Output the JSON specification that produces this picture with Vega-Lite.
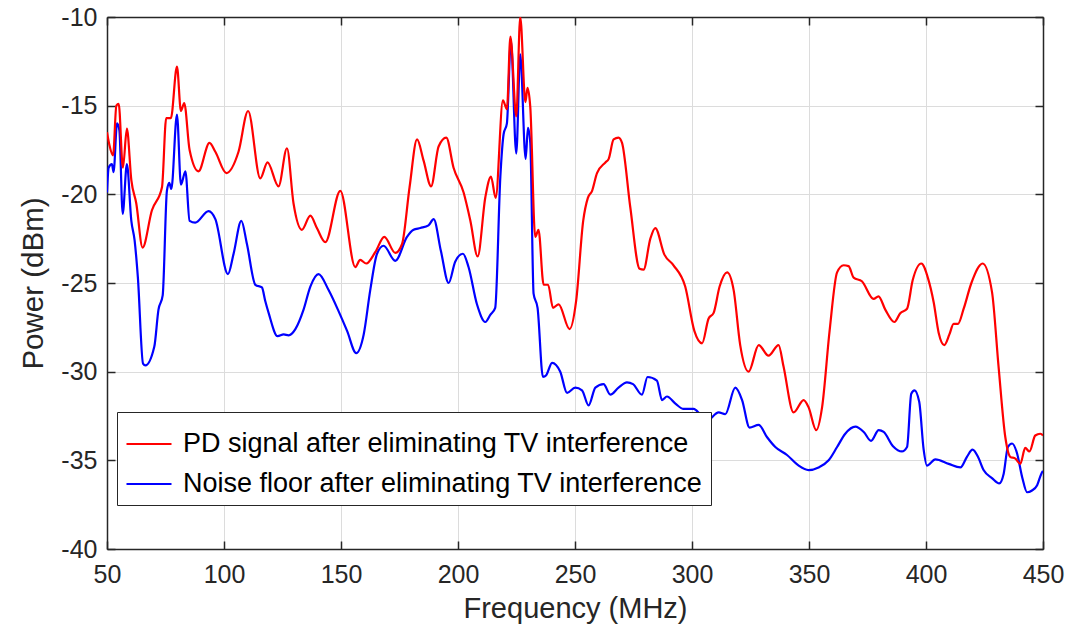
{
  "$schema": "https://vega.github.io/schema/vega-lite/v6.json",
  "width": 936,
  "height": 532,
  "autosize": "none",
  "padding": {"left": 107, "top": 17, "right": 26, "bottom": 88},
  "background": "white",
  "config": {
    "view": {"stroke": null},
    "font": "Liberation Sans",
    "axis": {"labelFont": "Liberation Sans", "titleFont": "Liberation Sans", "labelColor": "#262626", "titleColor": "#262626", "titleFontWeight": "normal", "domainColor": "#262626", "tickColor": "#262626", "domainWidth": 1.5, "tickWidth": 1.5, "gridColor": "#dcdcdc", "gridWidth": 1}
  },
  "datasets": {
    "pd": [
      {"f":50,"p":-16.5},{"f":51,"p":-17.2},{"f":52.6,"p":-17.8},{"f":54,"p":-15.0},{"f":55,"p":-14.9},{"f":56.8,"p":-18.5},{"f":58.5,"p":-16.3},{"f":60.4,"p":-19.2},{"f":62.5,"p":-20.5},{"f":65.2,"p":-23.0},{"f":69.2,"p":-20.9},{"f":73.5,"p":-19.6},{"f":75.3,"p":-15.7},{"f":77.3,"p":-15.7},{"f":79.9,"p":-12.8},{"f":81.6,"p":-15.3},{"f":83,"p":-14.85},{"f":85.3,"p":-17.5},{"f":89.1,"p":-18.7},{"f":93.8,"p":-17.1},{"f":96.3,"p":-17.6},{"f":101,"p":-18.8},{"f":106.2,"p":-17.6},{"f":110.3,"p":-15.3},{"f":115.5,"p":-19.1},{"f":118.6,"p":-18.2},{"f":123.3,"p":-19.55},{"f":126.9,"p":-17.4},{"f":129.7,"p":-20.5},{"f":133.3,"p":-22.0},{"f":136.9,"p":-21.2},{"f":139.7,"p":-21.9},{"f":143.3,"p":-22.7},{"f":149.7,"p":-19.8},{"f":156.1,"p":-24.1},{"f":158.2,"p":-23.7},{"f":160.8,"p":-23.9},{"f":164.7,"p":-23.25},{"f":168.5,"p":-22.4},{"f":173.2,"p":-23.3},{"f":176.1,"p":-22.8},{"f":179.3,"p":-19.6},{"f":182.5,"p":-16.9},{"f":185.3,"p":-18.1},{"f":188.5,"p":-19.55},{"f":191.7,"p":-17.3},{"f":195,"p":-16.8},{"f":198.1,"p":-18.5},{"f":202.4,"p":-19.9},{"f":205.3,"p":-21.5},{"f":208.4,"p":-23.5},{"f":211.7,"p":-20.15},{"f":214.1,"p":-19.0},{"f":216.1,"p":-20.2},{"f":219.2,"p":-14.7},{"f":220.9,"p":-15.2},{"f":222.4,"p":-11.1},{"f":224.9,"p":-15.6},{"f":226.6,"p":-10.0},{"f":228.8,"p":-14.8},{"f":229.7,"p":-14.0},{"f":230.9,"p":-15.1},{"f":233,"p":-22.4},{"f":234.4,"p":-22.0},{"f":236.6,"p":-25.1},{"f":238.5,"p":-25.1},{"f":240.6,"p":-26.4},{"f":243,"p":-26.2},{"f":247.7,"p":-27.6},{"f":250.5,"p":-26.0},{"f":253.5,"p":-21.5},{"f":255.5,"p":-20.2},{"f":257.3,"p":-19.8},{"f":259.4,"p":-18.8},{"f":263,"p":-18.2},{"f":264.4,"p":-18.0},{"f":266.5,"p":-16.9},{"f":268.6,"p":-16.8},{"f":270.1,"p":-17.1},{"f":273.6,"p":-20.7},{"f":277.6,"p":-24.2},{"f":279.3,"p":-24.25},{"f":282.2,"p":-22.5},{"f":284.3,"p":-21.9},{"f":288.2,"p":-23.4},{"f":292.1,"p":-24.0},{"f":297.1,"p":-25.2},{"f":301,"p":-27.7},{"f":304.3,"p":-28.4},{"f":307.1,"p":-27.0},{"f":309.2,"p":-26.7},{"f":311.8,"p":-25.2},{"f":315,"p":-24.4},{"f":317.8,"p":-25.4},{"f":320.6,"p":-28.5},{"f":324.2,"p":-30.0},{"f":328.5,"p":-28.5},{"f":332.7,"p":-29.1},{"f":337,"p":-28.5},{"f":339.1,"p":-29.7},{"f":343.4,"p":-32.3},{"f":347.7,"p":-31.6},{"f":349.8,"p":-32.0},{"f":353.1,"p":-33.3},{"f":355.6,"p":-32.0},{"f":358.8,"p":-27.7},{"f":362,"p":-24.4},{"f":364.8,"p":-24.0},{"f":366.9,"p":-24.05},{"f":369.1,"p":-24.7},{"f":372.6,"p":-24.9},{"f":377.6,"p":-25.9},{"f":379.7,"p":-25.75},{"f":382.6,"p":-26.5},{"f":386.5,"p":-27.2},{"f":389,"p":-26.7},{"f":391.9,"p":-26.45},{"f":394.3,"p":-24.85},{"f":398,"p":-23.9},{"f":400.9,"p":-24.75},{"f":403.3,"p":-26.1},{"f":405.4,"p":-27.8},{"f":407.8,"p":-28.5},{"f":410,"p":-27.9},{"f":411.8,"p":-27.3},{"f":413.7,"p":-27.3},{"f":416.1,"p":-26.45},{"f":419.4,"p":-25.0},{"f":424.2,"p":-23.9},{"f":428.2,"p":-25.5},{"f":431,"p":-29.7},{"f":433.9,"p":-33.7},{"f":436,"p":-34.8},{"f":438.2,"p":-34.9},{"f":440.3,"p":-35.2},{"f":442.4,"p":-34.3},{"f":444.2,"p":-34.5},{"f":446.7,"p":-33.6},{"f":448.8,"p":-33.5},{"f":450,"p":-33.6}
    ],
    "noise": [
      {"f":50,"p":-19.9},{"f":50.7,"p":-18.5},{"f":52.1,"p":-18.3},{"f":52.8,"p":-18.75},{"f":54.3,"p":-16.0},{"f":55.3,"p":-16.4},{"f":56.7,"p":-21.1},{"f":58.5,"p":-18.3},{"f":60.4,"p":-21.5},{"f":61.8,"p":-22.6},{"f":63.2,"p":-24.7},{"f":65.4,"p":-29.55},{"f":66.4,"p":-29.65},{"f":70.2,"p":-28.6},{"f":72,"p":-26.5},{"f":73.8,"p":-25.7},{"f":75.6,"p":-19.8},{"f":76.6,"p":-19.35},{"f":77.5,"p":-19.7},{"f":79.9,"p":-15.5},{"f":81.6,"p":-19.45},{"f":83.5,"p":-18.7},{"f":85.3,"p":-21.5},{"f":87.7,"p":-21.6},{"f":93.4,"p":-20.95},{"f":96.3,"p":-21.4},{"f":101.7,"p":-24.5},{"f":104.1,"p":-23.35},{"f":107.4,"p":-21.5},{"f":109.8,"p":-22.8},{"f":113.4,"p":-25.1},{"f":116.2,"p":-25.25},{"f":117.6,"p":-26.0},{"f":119.1,"p":-26.7},{"f":122.9,"p":-28.0},{"f":125.5,"p":-27.9},{"f":127.6,"p":-27.95},{"f":130.5,"p":-27.6},{"f":134,"p":-26.5},{"f":136.9,"p":-25.2},{"f":140.4,"p":-24.5},{"f":144.7,"p":-25.4},{"f":149,"p":-26.6},{"f":152.6,"p":-27.7},{"f":156.5,"p":-28.95},{"f":159.7,"p":-27.9},{"f":162.5,"p":-25.4},{"f":165.4,"p":-23.35},{"f":168.2,"p":-22.9},{"f":173.2,"p":-23.75},{"f":178.2,"p":-22.4},{"f":181,"p":-22.0},{"f":183.9,"p":-21.9},{"f":187.4,"p":-21.75},{"f":189.6,"p":-21.4},{"f":192.7,"p":-23.2},{"f":196,"p":-25.0},{"f":198.8,"p":-23.8},{"f":202.1,"p":-23.35},{"f":204.5,"p":-24.1},{"f":208.1,"p":-26.2},{"f":211.7,"p":-27.2},{"f":213.8,"p":-26.8},{"f":215.9,"p":-26.4},{"f":218.1,"p":-19.0},{"f":219.5,"p":-16.6},{"f":220.9,"p":-16.0},{"f":222.6,"p":-11.35},{"f":224.9,"p":-17.7},{"f":226.6,"p":-12.1},{"f":228.9,"p":-18.0},{"f":229.9,"p":-16.25},{"f":230.9,"p":-17.1},{"f":232.3,"p":-25.6},{"f":234,"p":-26.4},{"f":236.3,"p":-30.3},{"f":237.7,"p":-30.2},{"f":240.2,"p":-29.5},{"f":243.7,"p":-30.0},{"f":246.6,"p":-31.2},{"f":250.1,"p":-30.9},{"f":253,"p":-31.05},{"f":255.8,"p":-31.9},{"f":258.7,"p":-30.9},{"f":262.2,"p":-30.7},{"f":265.1,"p":-31.3},{"f":268.6,"p":-30.9},{"f":272.2,"p":-30.6},{"f":274.8,"p":-30.7},{"f":278.6,"p":-31.3},{"f":281,"p":-30.3},{"f":285,"p":-30.5},{"f":287.2,"p":-31.6},{"f":289.3,"p":-31.4},{"f":292.9,"p":-31.8},{"f":296.4,"p":-32.1},{"f":300.7,"p":-32.1},{"f":303.5,"p":-32.4},{"f":306.4,"p":-32.75},{"f":311.4,"p":-32.3},{"f":314.2,"p":-32.4},{"f":318.5,"p":-30.9},{"f":321.4,"p":-31.6},{"f":324.6,"p":-33.15},{"f":328.5,"p":-33.0},{"f":332.1,"p":-33.7},{"f":335.6,"p":-34.25},{"f":340.6,"p":-34.7},{"f":345.6,"p":-35.3},{"f":349.8,"p":-35.55},{"f":354.1,"p":-35.4},{"f":358.4,"p":-35.0},{"f":362,"p":-34.25},{"f":365.5,"p":-33.5},{"f":369.8,"p":-33.1},{"f":373.4,"p":-33.4},{"f":376.5,"p":-33.9},{"f":379.8,"p":-33.3},{"f":381.9,"p":-33.4},{"f":385.9,"p":-34.2},{"f":389.7,"p":-34.5},{"f":391.9,"p":-34.25},{"f":393.7,"p":-31.25},{"f":395.1,"p":-31.05},{"f":397.1,"p":-31.7},{"f":399,"p":-34.4},{"f":400.4,"p":-35.3},{"f":404,"p":-34.95},{"f":409.7,"p":-35.2},{"f":414.7,"p":-35.4},{"f":417.5,"p":-34.8},{"f":419.9,"p":-34.4},{"f":422.2,"p":-34.8},{"f":424.6,"p":-35.55},{"f":428.2,"p":-36.0},{"f":431.3,"p":-36.3},{"f":433.2,"p":-35.75},{"f":435,"p":-34.25},{"f":436.8,"p":-34.05},{"f":438.9,"p":-34.6},{"f":441.1,"p":-35.95},{"f":443.2,"p":-36.8},{"f":445.3,"p":-36.7},{"f":447.5,"p":-36.4},{"f":449.3,"p":-35.75},{"f":450,"p":-35.6}
    ]
  },
  "layer": [
    {
      "data": {"name": "noise"},
      "transform": [{"calculate": "'Noise floor after eliminating TV interference'", "as": "series"}],
      "mark": {"type": "line", "interpolate": "monotone", "strokeWidth": 2.2, "clip": true},
      "encoding": {
        "x": {"field": "f", "type": "quantitative", "scale": {"domain": [50, 450], "nice": false, "zero": false},
          "axis": {"title": "Frequency (MHz)", "values": [50,100,150,200,250,300,350,400,450], "labelExpr": "toString(datum.value)", "labelFontSize": 25, "titleFontSize": 29, "tickSize": -8, "labelPadding": 21, "titlePadding": 7, "grid": true, "labelFlush": false}},
        "y": {"field": "p", "type": "quantitative", "scale": {"domain": [-40, -10], "nice": false, "zero": false},
          "axis": {"title": "Power (dBm)", "values": [-40,-35,-30,-25,-20,-15,-10], "labelExpr": "toString(datum.value)", "labelFontSize": 25, "titleFontSize": 29.5, "tickSize": -8, "labelPadding": 18, "titlePadding": 12, "grid": true}},
        "color": {"field": "series", "type": "nominal",
          "scale": {"domain": ["PD signal after eliminating TV interference", "Noise floor after eliminating TV interference"], "range": ["#ff0000", "#0000ff"]},
          "legend": {"title": null, "orient": "none", "legendX": 10, "legendY": 395, "symbolType": "stroke", "symbolSize": 2025, "symbolStrokeWidth": 2.2, "labelFontSize": 27, "labelFont": "Liberation Sans", "labelColor": "#000000", "labelOffset": 10, "labelLimit": 0, "padding": 8, "rowPadding": 3, "fillColor": "white", "strokeColor": "#262626", "cornerRadius": 0}}
      }
    },
    {
      "data": {"name": "pd"},
      "transform": [{"calculate": "'PD signal after eliminating TV interference'", "as": "series"}],
      "mark": {"type": "line", "interpolate": "monotone", "strokeWidth": 2.2, "clip": true},
      "encoding": {
        "x": {"field": "f", "type": "quantitative", "axis": null},
        "y": {"field": "p", "type": "quantitative", "axis": null},
        "color": {"field": "series", "type": "nominal"}
      }
    },
    {
      "data": {"name": "pd"},
      "mark": {"type": "line", "opacity": 0},
      "encoding": {
        "x": {"field": "f", "type": "quantitative", "axis": {"orient": "top", "title": null, "labels": false, "values": [50,100,150,200,250,300,350,400,450], "tickSize": -8, "grid": false}},
        "y": {"field": "p", "type": "quantitative", "axis": {"orient": "right", "title": null, "labels": false, "values": [-40,-35,-30,-25,-20,-15,-10], "tickSize": -8, "grid": false}}
      }
    }
  ],
  "resolve": {"axis": {"x": "independent", "y": "independent"}}
}
